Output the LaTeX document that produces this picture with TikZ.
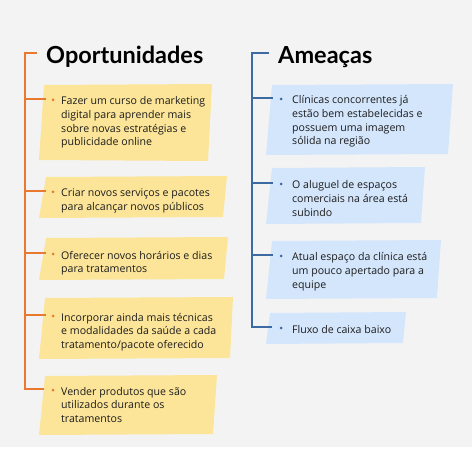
\documentclass[tikz,border=0pt]{standalone}
\usepackage{fontspec}
\setmainfont{Lato}
\newfontfamily\bodyfont{Open Sans}
\definecolor{bgc}{HTML}{F3F3F3}
\definecolor{yfill}{HTML}{FCE599}
\definecolor{bfill}{HTML}{D4E6FC}
\definecolor{oline}{HTML}{E9792F}
\definecolor{bline}{HTML}{3C6AA3}
\definecolor{ink}{HTML}{1C1C1C}
\newcommand{\bx}[1]{\parbox[t]{200pt}{\raggedright #1}}
\begin{document}
\begin{tikzpicture}[x=1pt,y=-1pt,
  txt/.style={anchor=base west,inner sep=0pt,text=ink,
    font=\bodyfont\fontsize{10.6}{13.6}\selectfont},
  head/.style={anchor=base west,inner sep=0pt,text=black,
    font=\fontsize{23.5}{26}\selectfont\bfseries},
  olink/.style={draw=oline,line width=1.1pt},
  blink/.style={draw=bline,line width=1.1pt},
  odot/.style={circle,fill=oline,inner sep=0pt,minimum size=3pt},
  bdot/.style={circle,fill=bline,inner sep=0pt,minimum size=3pt}]
\path[use as bounding box,fill=white] (0,0) rectangle (474,449);
\fill[bgc] (0,0) rectangle (472,447);

% boxes left
\fill[yfill] (44,85) -- (212,84) -- (208,161) -- (39,160) -- cycle;
\fill[yfill] (46,177) -- (227,176) -- (223,217) -- (39,218) -- cycle;
\fill[yfill] (46,238) -- (228,237) -- (224,279) -- (39,280) -- cycle;
\fill[yfill] (45,298) -- (233,297) -- (230,358) -- (39,359) -- cycle;
\fill[yfill] (45,376) -- (217,375) -- (213,434) -- (39,435) -- cycle;
% boxes right
\fill[bfill] (272,85) -- (453,84) -- (448,154) -- (266,155) -- cycle;
\fill[bfill] (272,168) -- (425,167) -- (421,223) -- (266,224) -- cycle;
\fill[bfill] (272,241) -- (441,240) -- (437,298) -- (266,299) -- cycle;
\fill[bfill] (270,313) -- (406,312) -- (403,343) -- (266,344) -- cycle;

% headings
\node[head] (h1) at (46,64) {Oportunidades};
\node[head] (h2) at (278,64) {Ameaças};

% spine coordinates
\coordinate (ot) at (37,53);
\coordinate (o0) at (25,53);
\coordinate (o1) at (25,99);
\coordinate (o2) at (25,191);
\coordinate (o3) at (25,253);
\coordinate (o4) at (25,315);
\coordinate (o5) at (25,389);
\coordinate (bt) at (269,53);
\coordinate (b0) at (252,53);
\coordinate (b1) at (252,98);
\coordinate (b2) at (252,183);
\coordinate (b3) at (252,255);
\coordinate (b4) at (252,327);

% ends of connectors
\coordinate (oe1) at (46,99);
\coordinate (oe2) at (46,191);
\coordinate (oe3) at (46,253);
\coordinate (oe4) at (46,315);
\coordinate (oe5) at (44,389);
\coordinate (be1) at (273,98);
\coordinate (be2) at (273,183);
\coordinate (be3) at (273,255);
\coordinate (be4) at (272,327);

\draw[olink] (ot) -- (o0) -- (o5) -- (oe5);
\draw[olink] (o1) -- (oe1);
\draw[olink] (o2) -- (oe2);
\draw[olink] (o3) -- (oe3);
\draw[olink] (o4) -- (oe4);
\draw[blink] (bt) -- (b0) -- (b4) -- (be4);
\draw[blink] (b1) -- (be1);
\draw[blink] (b2) -- (be2);
\draw[blink] (b3) -- (be3);

% bullets
\node[odot] (d1) at (53,100) {};
\node[odot] (d2) at (53,192) {};
\node[odot] (d3) at (53,254) {};
\node[odot] (d4) at (53,316) {};
\node[odot] (d5) at (53,390) {};
\node[bdot] (e1) at (281,99) {};
\node[bdot] (e2) at (281,184) {};
\node[bdot] (e3) at (281,256) {};
\node[bdot] (e4) at (281,328) {};

% texts
\node[txt] (t1) at (61,105) {\bx{Fazer um curso de marketing\\digital para aprender mais\\sobre novas estratégias e\\publicidade online}};
\node[txt] (t2) at (61,197) {\bx{Criar novos serviços e pacotes\\para alcançar novos públicos}};
\node[txt] (t3) at (61,259) {\bx{Oferecer novos horários e dias\\para tratamentos}};
\node[txt] (t4) at (61,321) {\bx{Incorporar ainda mais técnicas\\e modalidades da saúde a cada\\tratamento/pacote oferecido}};
\node[txt] (t5) at (61,395) {\bx{Vender produtos que são\\utilizados durante os\\tratamentos}};
\node[txt] (r1) at (292,104) {\bx{Clínicas concorrentes já\\estão bem estabelecidas e\\possuem uma imagem\\sólida na região}};
\node[txt] (r2) at (292,189) {\bx{O aluguel de espaços\\comerciais na área está\\subindo}};
\node[txt] (r3) at (292,261) {\bx{Atual espaço da clínica está\\um pouco apertado para a\\equipe}};
\node[txt] (r4) at (292,333) {\bx{Fluxo de caixa baixo}};
\end{tikzpicture}
\end{document}
